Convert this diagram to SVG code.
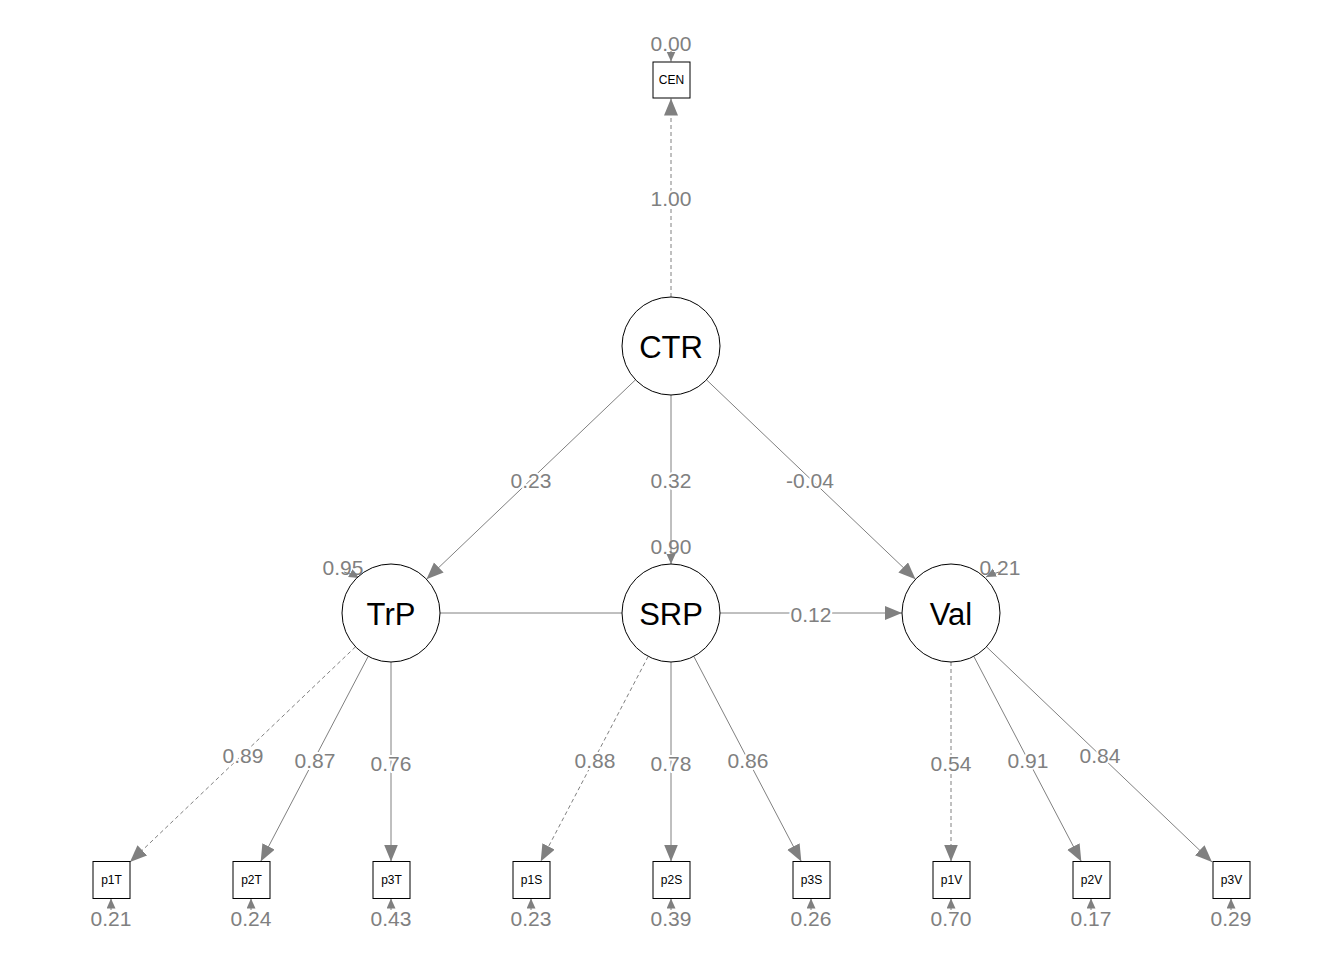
<svg xmlns="http://www.w3.org/2000/svg" width="1344" height="960" viewBox="0 0 1344 960">
<style>
.bg{fill:#ffffff}
.lat{fill:#ffffff;stroke:#000000;stroke-width:1}
.man{fill:#ffffff;stroke:#000000;stroke-width:1}
.e{fill:none;stroke:#808080;stroke-width:1}
.d{stroke-dasharray:4,3}
.big{marker-end:url(#ab)}
.sm{marker-end:url(#as)}
.lt{font-family:"Liberation Sans",Arial,sans-serif;font-size:31px;fill:#000000;text-anchor:middle;dominant-baseline:central}
.mt{font-family:"Liberation Sans",Arial,sans-serif;font-size:12px;fill:#000000;text-anchor:middle;dominant-baseline:central}
.el{font-family:"Liberation Sans",Arial,sans-serif;font-size:21px;fill:#808080;text-anchor:middle;dominant-baseline:central;stroke:#ffffff;stroke-width:4;paint-order:stroke;stroke-linejoin:round}
.rl{font-family:"Liberation Sans",Arial,sans-serif;font-size:21px;fill:#808080;text-anchor:middle;dominant-baseline:central}
</style>
<defs>
<marker id="ab" markerUnits="userSpaceOnUse" markerWidth="20" markerHeight="16" refX="17" refY="7" orient="auto">
<path d="M0,0 L17,7 L0,14 z" fill="#808080"/>
</marker>
<marker id="as" markerUnits="userSpaceOnUse" markerWidth="12" markerHeight="10" refX="10" refY="4.5" orient="auto">
<path d="M0,0 L10,4.5 L0,9 z" fill="#808080"/>
</marker>
</defs>
<rect class="bg" x="0" y="0" width="1344" height="960"/>

<g id="connectors">
<line class="e d big" x1="671" y1="297" x2="671" y2="98.5"/>
<line class="e big" x1="635.5" y1="379.8" x2="426.5" y2="579.2"/>
<line class="e sm" x1="671" y1="395" x2="671" y2="564"/>
<line class="e big" x1="706.5" y1="379.8" x2="915.5" y2="579.2"/>
<line class="e" x1="440" y1="613" x2="622" y2="613"/>
<line class="e big" x1="720" y1="613" x2="902" y2="613"/>
<line class="e d big" x1="355.5" y1="646.8" x2="130" y2="862"/>
<line class="e big" x1="368.2" y1="656.4" x2="260.7" y2="861.5"/>
<line class="e big" x1="391" y1="662" x2="391" y2="861.5"/>
<line class="e d big" x1="648.2" y1="656.4" x2="540.7" y2="861.5"/>
<line class="e big" x1="671" y1="662" x2="671" y2="861.5"/>
<line class="e big" x1="693.8" y1="656.4" x2="801.3" y2="861.5"/>
<line class="e d big" x1="951" y1="662" x2="951" y2="861.5"/>
<line class="e big" x1="973.8" y1="656.4" x2="1081.3" y2="861.5"/>
<line class="e big" x1="986.5" y1="646.8" x2="1212" y2="862"/>
<!-- residual arrows -->
<line class="e sm" x1="671" y1="51" x2="671" y2="61.5"/>
<path class="e sm" d="M344,572 Q352,574 359,578"/>
<path class="e sm" d="M999,572 Q992,574 986,577"/>
<line class="e sm" x1="111" y1="910" x2="111" y2="898.5"/>
<line class="e sm" x1="251" y1="910" x2="251" y2="898.5"/>
<line class="e sm" x1="391" y1="910" x2="391" y2="898.5"/>
<line class="e sm" x1="531" y1="910" x2="531" y2="898.5"/>
<line class="e sm" x1="671" y1="910" x2="671" y2="898.5"/>
<line class="e sm" x1="811" y1="910" x2="811" y2="898.5"/>
<line class="e sm" x1="951" y1="910" x2="951" y2="898.5"/>
<line class="e sm" x1="1091" y1="910" x2="1091" y2="898.5"/>
<line class="e sm" x1="1231" y1="910" x2="1231" y2="898.5"/>
<!-- edge labels -->
<text class="el" x="671" y="198">1.00</text>
<text class="el" x="531" y="480">0.23</text>
<text class="el" x="671" y="480">0.32</text>
<text class="el" x="810" y="480">-0.04</text>
<rect x="790" y="605" width="42" height="18" fill="#ffffff"/>
<text class="el" x="811" y="614">0.12</text>
<text class="el" x="243" y="755">0.89</text>
<text class="el" x="315" y="760">0.87</text>
<text class="el" x="391" y="763">0.76</text>
<text class="el" x="595" y="760">0.88</text>
<text class="el" x="671" y="763">0.78</text>
<text class="el" x="748" y="760">0.86</text>
<text class="el" x="951" y="763">0.54</text>
<text class="el" x="1028" y="760">0.91</text>
<text class="el" x="1100" y="755">0.84</text>
<!-- residual labels -->
<text class="rl" x="671" y="43">0.00</text>
<text class="rl" x="343" y="567">0.95</text>
<text class="rl" x="671" y="546">0.90</text>
<text class="rl" x="1000" y="567">0.21</text>
<text class="rl" x="111" y="918">0.21</text>
<text class="rl" x="251" y="918">0.24</text>
<text class="rl" x="391" y="918">0.43</text>
<text class="rl" x="531" y="918">0.23</text>
<text class="rl" x="671" y="918">0.39</text>
<text class="rl" x="811" y="918">0.26</text>
<text class="rl" x="951" y="918">0.70</text>
<text class="rl" x="1091" y="918">0.17</text>
<text class="rl" x="1231" y="918">0.29</text>
</g>

<g id="CEN"><rect class="man" x="653" y="62" width="37" height="36"/><text class="mt" x="671.5" y="80">CEN</text></g>
<g id="CTR"><circle class="lat" cx="671" cy="346" r="49"/><text class="lt" x="671" y="347">CTR</text></g>
<g id="TrP"><circle class="lat" cx="391" cy="613" r="49"/><text class="lt" x="391" y="614">TrP</text></g>
<g id="SRP"><circle class="lat" cx="671" cy="613" r="49"/><text class="lt" x="671" y="614">SRP</text></g>
<g id="Val"><circle class="lat" cx="951" cy="613" r="49"/><text class="lt" x="951" y="614">Val</text></g>

<g id="p1T"><rect class="man" x="93" y="861.5" width="37" height="37"/><text class="mt" x="111.5" y="880">p1T</text></g>
<g id="p2T"><rect class="man" x="233" y="861.5" width="37" height="37"/><text class="mt" x="251.5" y="880">p2T</text></g>
<g id="p3T"><rect class="man" x="373" y="861.5" width="37" height="37"/><text class="mt" x="391.5" y="880">p3T</text></g>
<g id="p1S"><rect class="man" x="513" y="861.5" width="37" height="37"/><text class="mt" x="531.5" y="880">p1S</text></g>
<g id="p2S"><rect class="man" x="653" y="861.5" width="37" height="37"/><text class="mt" x="671.5" y="880">p2S</text></g>
<g id="p3S"><rect class="man" x="793" y="861.5" width="37" height="37"/><text class="mt" x="811.5" y="880">p3S</text></g>
<g id="p1V"><rect class="man" x="933" y="861.5" width="37" height="37"/><text class="mt" x="951.5" y="880">p1V</text></g>
<g id="p2V"><rect class="man" x="1073" y="861.5" width="37" height="37"/><text class="mt" x="1091.5" y="880">p2V</text></g>
<g id="p3V"><rect class="man" x="1213" y="861.5" width="37" height="37"/><text class="mt" x="1231.5" y="880">p3V</text></g>
</svg>
